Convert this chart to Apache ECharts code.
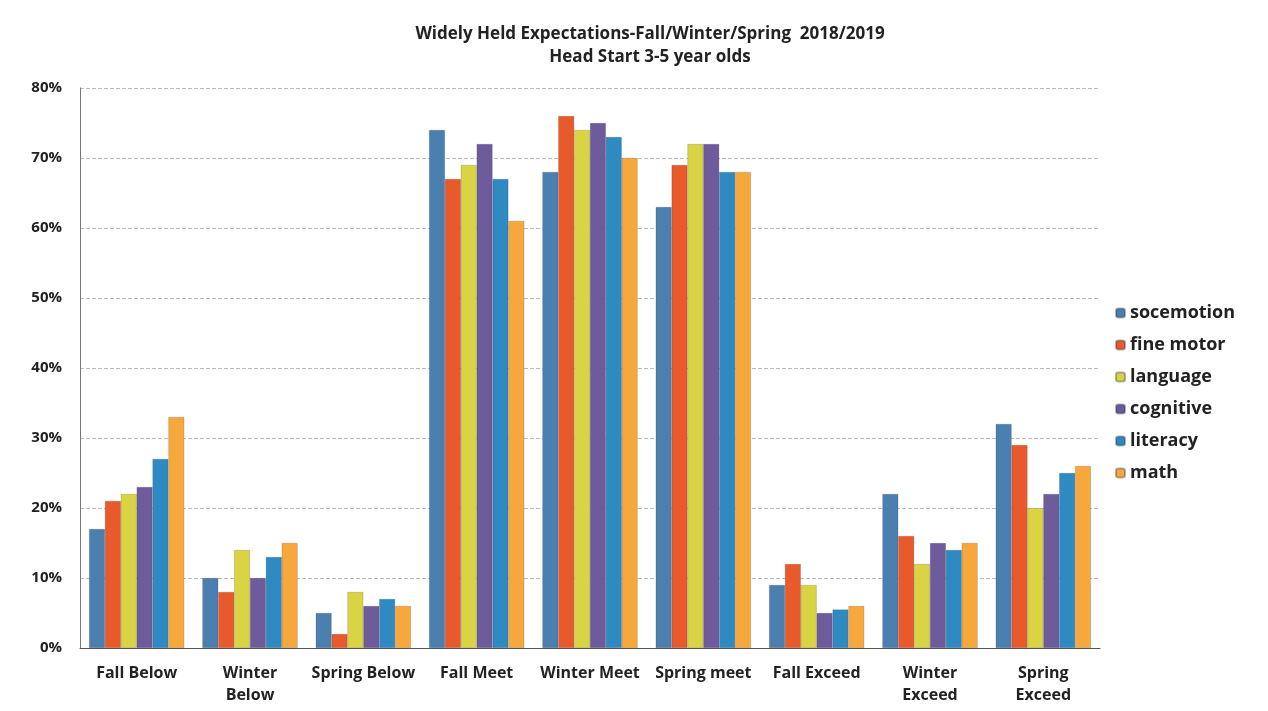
<!DOCTYPE html>
<html>
<head>
<meta charset="utf-8">
<script src="https://cdn.jsdelivr.net/npm/echarts@6/dist/echarts.min.js"></script>
<style>
  html, body { margin: 0; padding: 0; background: #fff; }
  #chart { width: 1268px; height: 711px; }
</style>
</head>
<body>
<div id="chart"></div>
<script>
const categories = ['Fall Below', 'Winter\nBelow', 'Spring Below', 'Fall Meet', 'Winter Meet', 'Spring meet', 'Fall Exceed', 'Winter\nExceed', 'Spring\nExceed']

const socemotion = [17, 10, 5, 74, 68, 63, 9, 22, 32]
const fineMotor = [21, 8, 2, 67, 76, 69, 12, 16, 29]
const language = [22, 14, 8, 69, 74, 72, 9, 12, 20]
const cognitive = [23, 10, 6, 72, 75, 72, 5, 15, 22]
const literacy = [27, 13, 7, 67, 73, 68, 5.5, 14, 25]
const math = [33, 15, 6, 61, 70, 68, 6, 15, 26]

const seriesNames = ['socemotion', 'fine motor', 'language', 'cognitive', 'literacy', 'math']
const seriesData = [socemotion, fineMotor, language, cognitive, literacy, math]
const colors = ['#4a7fb0', '#e85a2c', '#d8d443', '#6d5b9c', '#2f8ac2', '#f7a83c']

const chart = echarts.init(document.getElementById('chart'))

chart.setOption({
  animation: false,
  color: colors,
  textStyle: { fontFamily: 'Open Sans' },
  title: {
    text: 'Widely Held Expectations-Fall/Winter/Spring  2018/2019\nHead Start 3-5 year olds',
    left: 645,
    textAlign: 'center',
    top: 18,
    textStyle: { fontSize: 17, fontWeight: 'bold', color: '#222', lineHeight: 23 }
  },
  legend: {
    orient: 'vertical',
    left: 1110,
    top: 298,
    itemWidth: 9,
    itemHeight: 9,
    itemGap: 12,
    icon: 'roundRect',
    textStyle: { fontSize: 18, fontWeight: 'bold', color: '#222', lineHeight: 20 },
    data: seriesNames
  },
  grid: { left: 80, right: 168, top: 88, bottom: 63 },
  xAxis: {
    type: 'category',
    data: categories,
    axisLine: { lineStyle: { color: '#555' } },
    axisTick: { show: false },
    axisLabel: { fontSize: 16, fontWeight: 'bold', color: '#222', interval: 0, margin: 14, lineHeight: 22 }
  },
  yAxis: {
    type: 'value',
    min: 0,
    max: 80,
    interval: 10,
    axisLine: { show: true, lineStyle: { color: '#777' } },
    axisTick: { show: false },
    axisLabel: { formatter: '{value}%', fontSize: 15, fontWeight: 'bold', color: '#222', margin: 18 },
    splitLine: { lineStyle: { color: '#bbb', type: 'dashed' } }
  },
  series: seriesNames.map((name, i) => ({
    name,
    type: 'bar',
    data: seriesData[i],
    barGap: '0%',
    barCategoryGap: '16%',
    itemStyle: { borderColor: 'rgba(40,40,60,0.35)', borderWidth: 0.5 }
  }))
})
</script>
</body>
</html>
